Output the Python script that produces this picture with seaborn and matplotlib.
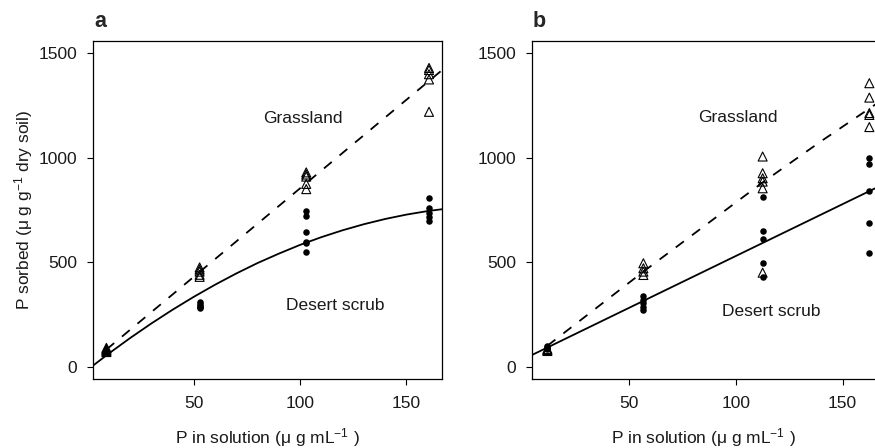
import matplotlib
matplotlib.use("Agg")
import matplotlib.pyplot as plt
import seaborn as sns

# ---------------- data ----------------
# Panel a
a_grass_x = [9, 9, 9, 9, 9, 52.8, 52.8, 52.8, 52.8, 52.8,
             102.9, 102.9, 102.9, 102.9, 102.9,
             160.6, 160.6, 160.6, 160.6, 160.6]
a_grass_y = [70, 75, 80, 85, 90, 475, 465, 455, 440, 430,
             930, 920, 910, 875, 850,
             1430, 1420, 1400, 1375, 1220]
a_desert_x = [9, 9, 9, 52.8, 52.8, 52.8, 52.8, 52.8,
              102.9, 102.9, 102.9, 102.9, 102.9, 102.9,
              160.6, 160.6, 160.6, 160.6, 160.6]
a_desert_y = [65, 70, 75, 310, 300, 290, 285, 280,
              747, 722, 647, 599, 591, 551,
              806, 759, 738, 718, 699]

# fitted lines panel a
a_grass_fit_x = [9, 167]
a_grass_fit_y = [82, 1422]
a_desert_fit_x = [2.7, 10, 20, 30, 40, 50, 60, 70, 80, 90, 100, 110,
                  120, 130, 140, 150, 160, 167]
a_desert_fit_y = [5, 62, 136, 206, 272, 334, 392, 446, 496, 541, 583, 620,
                  653, 682, 707, 728, 745, 754]

# Panel b
b_grass_x = [11.6, 11.6, 11.6, 56.6, 56.6, 56.6, 56.6,
             112.5, 112.5, 112.5, 112.5, 112.5, 112.5,
             162.5, 162.5, 162.5, 162.5, 162.5]
b_grass_y = [75, 80, 85, 495, 471, 455, 439,
             1006, 926, 902, 886, 854, 450,
             1357, 1288, 1214, 1205, 1147]
b_desert_x = [11.6, 11.6, 11.6, 11.6, 56.6, 56.6, 56.6, 56.6, 56.6,
              112.5, 112.5, 112.5, 112.5, 112.5,
              162.5, 162.5, 162.5, 162.5, 162.5]
b_desert_y = [85, 90, 95, 100, 339, 320, 304, 287, 272,
              814, 650, 613, 498, 428,
              1001, 969, 843, 688, 546]

b_grass_fit_x = [11.6, 30, 56.6, 85, 112.5, 140, 167.5]
b_grass_fit_y = [100, 245, 455, 672, 882, 1080, 1270]
b_desert_fit_x = [4.4, 167.5]
b_desert_fit_y = [56, 865]

x_ticks = [50, 100, 150]
y_ticks = [0, 500, 1000, 1500]
panel_letters = ["a", "b"]
label_grass = "Grassland"
label_desert = "Desert scrub"
xlabel = r"P in solution (μ g mL$^{-1}$ )"
ylabel = r"P sorbed (μ g g$^{-1}$ dry soil)"

# ---------------- style ----------------
sns.set_style("ticks")
plt.rcParams["font.family"] = ["Liberation Sans", "DejaVu Sans"]
plt.rcParams["mathtext.fontset"] = "custom"
plt.rcParams["mathtext.rm"] = "Liberation Sans"
plt.rcParams["mathtext.it"] = "Liberation Sans:italic"
plt.rcParams["mathtext.bf"] = "Liberation Sans:bold"

FS = 12.5
TXT = "#1a1a1a"
W, H = 875, 448
fig = plt.figure(figsize=(W / 100, H / 100), dpi=100)

# axes positions in pixels (left, right, top, bottom)
ax_a = fig.add_axes([93 / W, (H - 379) / H, 349 / W, 338 / H])
ax_b = fig.add_axes([532 / W, (H - 379) / H, 348 / W, 338 / H])

panels = [
    (ax_a, (2.7, 166.7), a_grass_x, a_grass_y, a_desert_x, a_desert_y,
     a_grass_fit_x, a_grass_fit_y, a_desert_fit_x, a_desert_fit_y,
     (101.3, 1167), (116.7, 272)),
    (ax_b, (4.4, 167.5), b_grass_x, b_grass_y, b_desert_x, b_desert_y,
     b_grass_fit_x, b_grass_fit_y, b_desert_fit_x, b_desert_fit_y,
     (101.1, 1170), (116.5, 241)),
]

for i, (ax, xlim, gx, gy, dx, dy, gfx, gfy, dfx, dfy, gpos, dpos) in enumerate(panels):
    sns.lineplot(x=gfx, y=gfy, ax=ax, color="black", lw=1.3,
                 linestyle=(0, (5.6, 5.6)), sort=False, estimator=None)
    sns.lineplot(x=dfx, y=dfy, ax=ax, color="black", lw=1.3,
                 sort=False, estimator=None)
    sns.scatterplot(x=gx, y=gy, ax=ax, marker="^", s=42, color="black",
                    facecolor="none", edgecolor="black", linewidth=0.8,
                    zorder=3)
    sns.scatterplot(x=dx, y=dy, ax=ax, marker="o", s=22, color="black",
                    edgecolor="black", linewidth=0, zorder=3)

    ax.set_xlim(*xlim)
    ax.set_ylim(-59, 1559)
    ax.set_xticks(x_ticks)
    ax.set_yticks(y_ticks)
    ax.set_xticklabels([str(t) for t in x_ticks])
    ax.set_yticklabels([str(t) for t in y_ticks])
    ax.tick_params(axis="both", direction="out", length=4.5, width=0.8,
                   colors="black", labelsize=FS, labelcolor=TXT)
    ax.tick_params(axis="y", pad=7)
    ax.tick_params(axis="x", pad=8)
    for sp in ax.spines.values():
        sp.set_visible(True)
        sp.set_color("black")
        sp.set_linewidth(0.9)

    ax.text(gpos[0], gpos[1], label_grass, ha="center", va="baseline",
            fontsize=FS, color=TXT)
    ax.text(dpos[0], dpos[1], label_desert, ha="center", va="baseline",
            fontsize=FS, color=TXT)

    ax.set_xlabel(xlabel, fontsize=FS, color=TXT)
    ax.xaxis.set_label_coords(0.5 if i == 0 else (343 / 2) / 348, -0.14)
    if i == 0:
        ax.set_ylabel(ylabel, fontsize=FS, color=TXT)
        ax.yaxis.set_label_coords(-0.165, 0.5)
    else:
        ax.set_ylabel("")

# panel letters
fig.text(94 / W, 1 - 27 / H, panel_letters[0], fontsize=15.5, fontweight="bold",
         ha="left", va="baseline")
fig.text(533 / W, 1 - 27 / H, panel_letters[1], fontsize=15.5, fontweight="bold",
         ha="left", va="baseline")

fig.savefig("out.png", dpi=100)
